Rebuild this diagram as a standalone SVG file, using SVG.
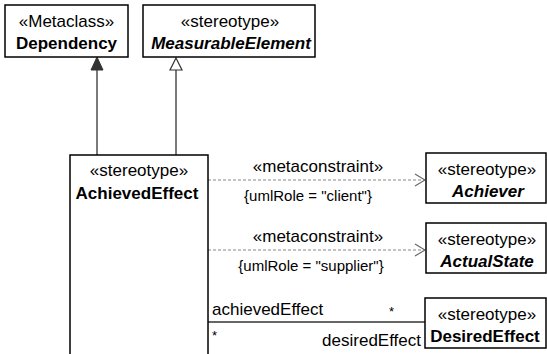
<svg xmlns="http://www.w3.org/2000/svg" width="547" height="354" viewBox="0 0 547 354">
<defs>
<style>
text{font-family:"Liberation Sans",Arial,sans-serif;font-size:17px;fill:#000}
.c{text-anchor:middle}
.b{font-weight:bold}
.bi{font-weight:bold;font-style:italic}
.k{font-size:15px}
.m{font-size:13px}
.box{fill:#fff;stroke:#000;stroke-width:1.5}
.ln{stroke:#333;stroke-width:1.3;fill:none}
.dash{stroke:#888;stroke-width:1.2;fill:none;stroke-dasharray:3,2}
</style>
<marker id="open" markerWidth="12" markerHeight="14" refX="11" refY="7" orient="auto" markerUnits="userSpaceOnUse">
<path d="M1,1 L11,7 L1,13" fill="none" stroke="#666" stroke-width="1.2"/>
</marker>
</defs>
<g id="connectors">
<line class="ln" x1="97" y1="69" x2="97" y2="155"/>
<polygon points="97,57 91,70 103,70" fill="#333" stroke="#333"/>
<line class="ln" x1="176" y1="70" x2="176" y2="155"/>
<polygon points="176,58 170,70 182,70" fill="#fff" stroke="#333" stroke-width="1.2"/>
<line class="dash" x1="208" y1="180" x2="425" y2="180" marker-end="url(#open)"/>
<line class="dash" x1="208" y1="250" x2="425" y2="250" marker-end="url(#open)"/>
<line class="ln" x1="208" y1="322" x2="425" y2="322"/>
<text class="c" x="318" y="172">«metaconstraint»</text>
<text class="c k" x="308" y="201">{umlRole = "client"}</text>
<text class="c" x="318" y="242">«metaconstraint»</text>
<text class="c k" x="311" y="271">{umlRole = "supplier"}</text>
<text x="212" y="315">achievedEffect</text>
<text class="m" x="389" y="316">*</text>
<text class="m" x="212" y="340">*</text>
<text x="421" y="346" text-anchor="end">desiredEffect</text>
</g>
<g id="dependency">
<rect class="box" x="5" y="5" width="123" height="52"/>
<text class="c" x="66.5" y="27">«Metaclass»</text>
<text class="c b" x="66.5" y="49">Dependency</text>
</g>
<g id="measurableElement">
<rect class="box" x="143" y="5" width="172" height="52"/>
<text class="c" x="230" y="27">«stereotype»</text>
<text class="c bi" x="231" y="49">MeasurableElement</text>
</g>
<g id="achievedEffect">
<rect class="box" x="70" y="155" width="138" height="205"/>
<text class="c" x="139" y="176">«stereotype»</text>
<text class="c b" x="137" y="199">AchievedEffect</text>
</g>
<g id="achiever">
<rect class="box" x="426" y="153" width="120" height="50"/>
<text class="c" x="487" y="175">«stereotype»</text>
<text class="c bi" x="488" y="197">Achiever</text>
</g>
<g id="actualState">
<rect class="box" x="426" y="223" width="120" height="50"/>
<text class="c" x="487" y="245">«stereotype»</text>
<text class="c bi" x="487" y="267">ActualState</text>
</g>
<g id="desiredEffect">
<rect class="box" x="425" y="298" width="121" height="50"/>
<text class="c" x="487" y="320">«stereotype»</text>
<text class="c b" x="485" y="342">DesiredEffect</text>
</g>
</svg>
